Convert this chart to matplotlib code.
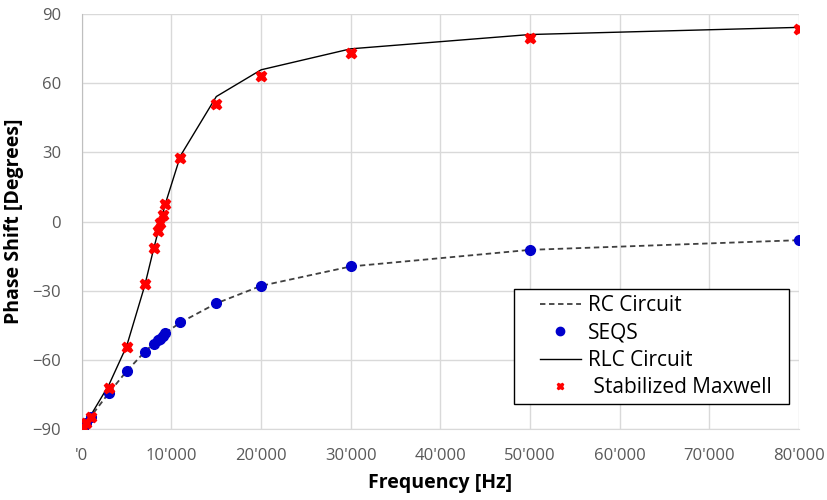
import numpy as np
import matplotlib.pyplot as plt
from matplotlib.patches import Rectangle
from matplotlib.ticker import FuncFormatter, MultipleLocator

# frequencies [Hz]
freq = [100, 500, 1000, 3000, 5000, 7000, 8000, 8500, 8700, 9000, 9300,
        11000, 15000, 20000, 30000, 50000, 80000]

# phase shift [deg]
rc_circuit = [-89.4, -87.2, -84.6, -74.4, -64.9, -56.6, -53.0, -51.6, -50.9,
              -49.6, -48.4, -43.8, -35.5, -27.9, -19.5, -12.3, -8.1]
seqs = [-89.4, -87.2, -84.6, -74.4, -64.9, -56.6, -53.0, -51.6, -50.9,
        -49.6, -48.4, -43.8, -35.5, -27.9, -19.5, -12.3, -8.1]
rlc_circuit = [-89.0, -87.0, -84.0, -71.0, -54.0, -28.0, -12.0, -4.5, -1.0,
               3.0, 7.5, 28.5, 54.2, 65.8, 74.9, 81.1, 84.2]
maxwell = [-89.5, -87.5, -84.8, -72.2, -54.3, -27.3, -11.4, -4.0, -0.8,
           2.8, 7.7, 27.5, 51.0, 63.0, 73.0, 79.5, 83.3]


def fmt_freq(x, pos):
    if x == 0:
        return "'0"
    return "{:,}".format(int(x)).replace(",", "'")


plt.rcParams['font.family'] = ['Open Sans', 'DejaVu Sans']

fig = plt.figure(figsize=(8.27, 5.0), dpi=100)
ax = fig.add_axes([0.099, 0.142, 0.867, 0.830])

ax.plot(freq, rc_circuit, linestyle=(0, (3, 2)), color='#404040', lw=1.3,
        label='RC Circuit', zorder=2)
ax.plot(freq, seqs, linestyle='none', marker='o', ms=7, color='#0000CC',
        label='SEQS', zorder=3)
ax.plot(freq, rlc_circuit, linestyle='-', color='black', lw=1.0,
        label='RLC Circuit', zorder=2)
ax.plot(freq, maxwell, linestyle='none', marker='X', ms=7.5, color='red',
        mec='red', label=' Stabilized Maxwell', zorder=4)

ax.set_xlim(0, 80000)
ax.set_ylim(-90, 90)
ax.xaxis.set_major_locator(MultipleLocator(10000))
ax.yaxis.set_major_locator(MultipleLocator(30))
ax.xaxis.set_major_formatter(FuncFormatter(fmt_freq))

ax.grid(True, color='#d9d9d9', lw=1.0)
ax.set_axisbelow(True)
for side in ['top', 'right']:
    ax.spines[side].set_visible(False)
ax.spines['left'].set_color('#bfbfbf')
ax.spines['bottom'].set_color('#d9d9d9')
ax.tick_params(length=0, labelsize=12, labelcolor='#595959')
ax.tick_params(axis='x', pad=14)
ax.tick_params(axis='y', pad=15)

ax.set_xlabel('Frequency [Hz]', fontsize=14, fontweight='bold', labelpad=6)
ax.set_ylabel('Phase Shift [Degrees]', fontsize=14, fontweight='bold', labelpad=6)

# legend frame drawn as its own box, entries placed inside it
ax.add_patch(Rectangle((0.603, 0.06), 0.383, 0.277, transform=ax.transAxes,
                       facecolor='white', edgecolor='black', lw=1.0,
                       zorder=5))
leg = ax.legend(loc='center left', bbox_to_anchor=(0.639, 0.198), fontsize=15,
                frameon=False, handlelength=1.95, handletextpad=0.35,
                borderpad=0, labelspacing=0.3, borderaxespad=0)
leg.set_zorder(6)
for h in leg.legend_handles:
    if h.get_marker() == 'o':
        h.set_markersize(6)
    elif h.get_marker() == 'X':
        h.set_markersize(5)

fig.savefig('out.png', dpi=100)
